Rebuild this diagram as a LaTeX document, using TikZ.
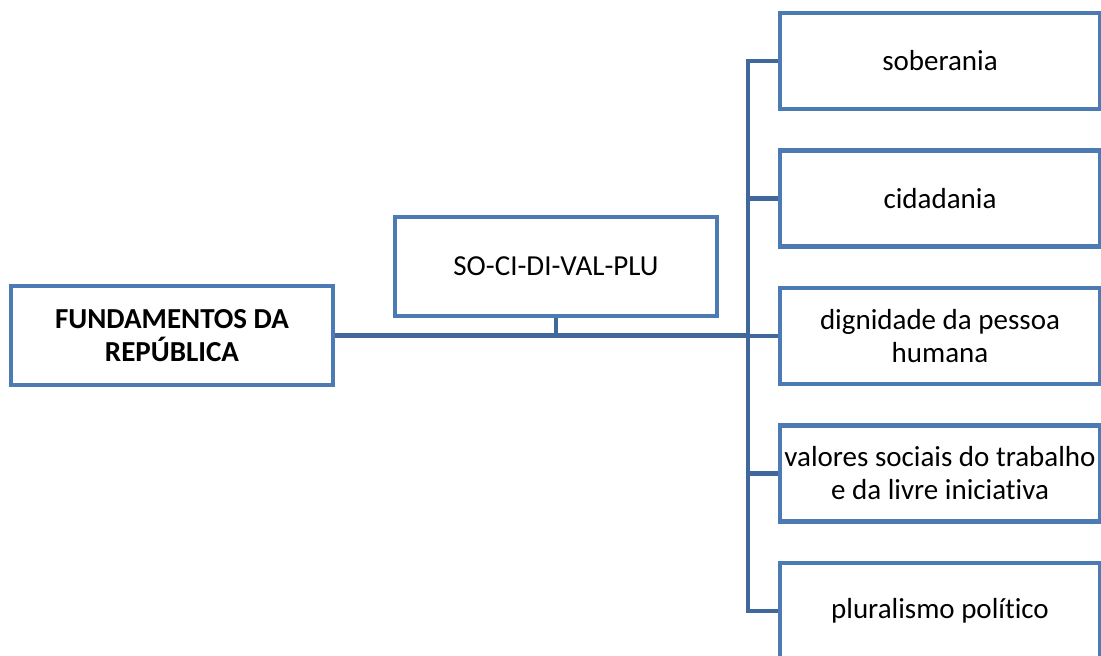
\documentclass[tikz,border=0pt]{standalone}
\usepackage{fontspec}
\setmainfont{Carlito}[Ligatures=NoCommon]
\usetikzlibrary{positioning}
\definecolor{boxblue}{RGB}{76,122,178}
\definecolor{lineblue}{RGB}{65,104,156}

\begin{document}
\begin{tikzpicture}[x=1pt, y=-1pt, node distance=37pt,
  every node/.style={font=\fontsize{29}{33}\selectfont},
  box/.style={draw=boxblue, line width=4.5pt, fill=white, align=center, inner sep=1pt},
  wide/.style={box, minimum width=322pt, minimum height=99pt},
  item/.style={box, minimum width=320pt, minimum height=96pt},
  link/.style={draw=lineblue, line width=4.5pt}]
\useasboundingbox (0,0) rectangle (1101,656);
\clip (0,0) rectangle (1101,656);
\coordinate (bus) at (748,336);
\node[wide] (fund) at (172,335.5) {\bfseries FUNDAMENTOS DA\\\bfseries REPÚBLICA};
\node[wide] (sigla) at (556,266.5) {SO-CI-DI-VAL-PLU};
\node[item] (sob) at (940,61) {soberania};
\node[item,below=of sob] (cid) {cidadania};
\node[item,below=of cid] (dig) {dignidade da pessoa\\humana};
\node[item,below=of dig] (val) {valores sociais do trabalho\\e da livre iniciativa};
\node[item,below=of val] (plu) {pluralismo político};
% connectors
\draw[link] (fund.east) -- (fund.east -| bus);
\draw[link] (sigla.south) -- (sigla.south |- bus);
\draw[link] (sob.west) -- (bus |- sob.west) -- (bus |- plu.west) -- (plu.west);
\draw[link] (bus |- cid.west) -- (cid.west);
\draw[link] (bus |- dig.west) -- (dig.west);
\draw[link] (bus |- val.west) -- (val.west);
\end{tikzpicture}
\end{document}
